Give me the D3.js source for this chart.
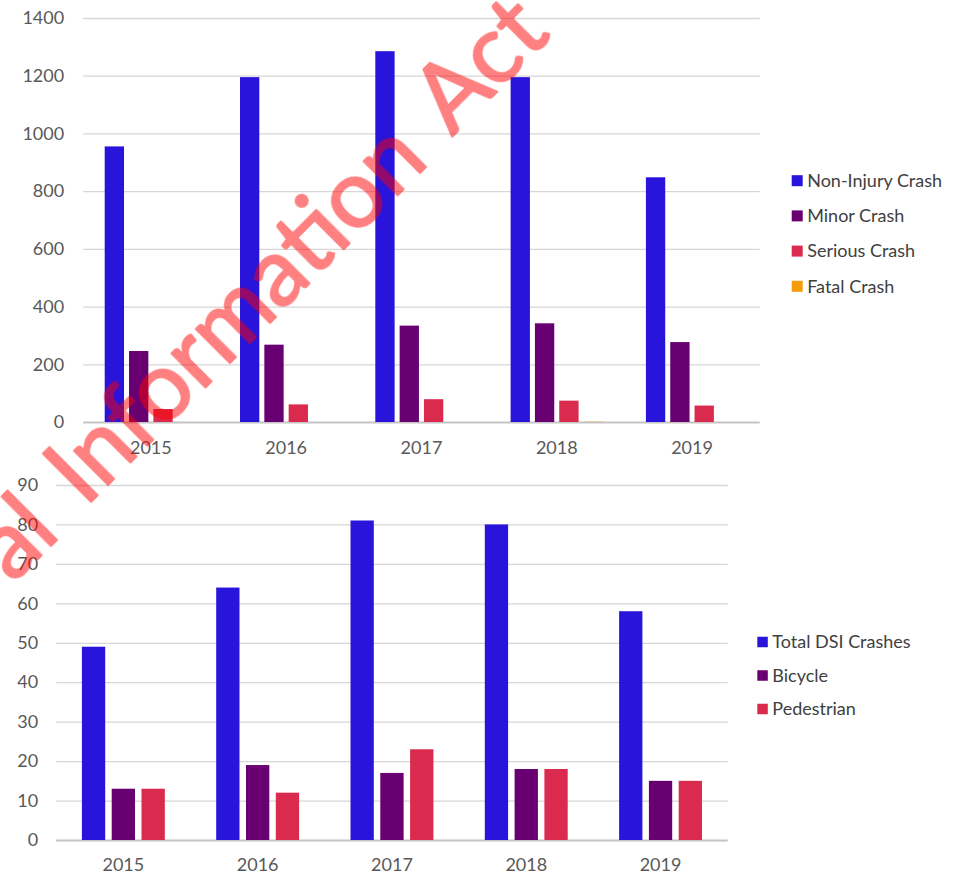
<!DOCTYPE html>
<html><head><meta charset="utf-8">
<script src="https://cdn.jsdelivr.net/npm/d3@7"></script>
<style>
html,body{margin:0;padding:0;background:#fff;}
svg{display:block;font-family:Lato,"Open Sans",sans-serif;}
.axis text{fill:#595959;font-size:18px;font-family:Lato,sans-serif;}
.legend text{fill:#404040;font-size:18px;font-family:Lato,sans-serif;}
</style></head>
<body>
<svg id="c" width="960" height="874"></svg>
<script>
// ---- data ----
const years = ["2015","2016","2017","2018","2019"];
// top chart
const crashSeries = ["Non-Injury Crash","Minor Crash","Serious Crash","Fatal Crash"];
const nonInjury = [955, 1195, 1285, 1195, 848];
const minor = [246, 268, 334, 342, 277];
const serious = [45, 61, 79, 74, 57];
const fatal = [0, 0, 0, 1, 0];
const crashTicks = [0,200,400,600,800,1000,1200,1400];
// bottom chart
const dsiSeries = ["Total DSI Crashes","Bicycle","Pedestrian"];
const totalDSI = [49, 64, 81, 80, 58];
const bicycle = [13, 19, 17, 18, 15];
const pedestrian = [13, 12, 23, 18, 15];
const dsiTicks = [0,10,20,30,40,50,60,70,80,90];
// watermark
const watermarkWords = ["al","Information","Act"];

const colors = {
  "Non-Injury Crash":"#2814da","Minor Crash":"#690071","Serious Crash":"#da2a4e","Fatal Crash":"#f59c0e",
  "Total DSI Crashes":"#2814da","Bicycle":"#690071","Pedestrian":"#da2a4e"
};

const svg = d3.select("#c");

function drawChart(cfg){
  const g = svg.append("g");
  const x = d3.scaleBand().domain(years).range([cfg.x0, cfg.x1]).paddingInner(0).paddingOuter(0);
  const xi = d3.scaleBand().domain(cfg.series).range([cfg.inset, x.bandwidth()-cfg.inset]).paddingInner(cfg.pad).paddingOuter(0);
  const y = d3.scaleLinear().domain([0, cfg.max]).range([cfg.y0, cfg.y1]);

  // gridlines + y labels
  const ya = g.append("g").attr("class","axis").attr("transform",`translate(${cfg.x0},0)`)
    .call(d3.axisLeft(y).tickValues(cfg.ticks).tickFormat(d3.format("d"))
      .tickSize(-(cfg.x1-cfg.x0)).tickPadding(cfg.labelPad));
  ya.select(".domain").remove();
  ya.selectAll(".tick line").attr("stroke","#d6d6d6").attr("stroke-width",1.3);
  ya.selectAll(".tick").filter(d=>d===0).select("line").attr("stroke","#c4c4c4").attr("stroke-width",2);

  // bars
  const rows = cfg.series.map((s,i)=>({s, vals:cfg.values[i]}));
  rows.forEach(r=>{
    g.append("g").selectAll("rect").data(years.map((yr,j)=>({yr,v:r.vals[j]})))
      .join("rect")
      .attr("x",d=>x(d.yr)+xi(r.s))
      .attr("width",xi.bandwidth())
      .attr("y",d=>y(d.v))
      .attr("height",d=>cfg.y0-y(d.v))
      .attr("fill",colors[r.s]);
  });

  // x labels
  const xa = g.append("g").attr("class","axis").attr("transform",`translate(0,${cfg.y0})`)
    .call(d3.axisBottom(x).tickSize(0).tickPadding(cfg.xPad));
  xa.select(".domain").remove();

  // legend
  const lg = g.append("g").attr("class","legend");
  cfg.series.forEach((s,i)=>{
    const cy = cfg.legY + i*cfg.legStep;
    lg.append("rect").attr("x",cfg.legX).attr("y",cy-cfg.sq/2).attr("width",cfg.sq).attr("height",cfg.sq).attr("fill",colors[s]);
    lg.append("text").attr("x",cfg.legX+cfg.sq+4.5).attr("y",cy).attr("dy","0.35em").text(s);
  });
}

drawChart({series:crashSeries, values:[nonInjury,minor,serious,fatal], x0:83.2, x1:759.7, y0:422, y1:18, max:1400,
  inset:21.5, pad:0.206, ticks:crashTicks, labelPad:19, xPad:19,
  legX:791.7, legY:180.7, legStep:35.2, sq:11});

drawChart({series:dsiSeries, values:[totalDSI,bicycle,pedestrian], x0:56.2, x1:727.7, y0:840, y1:485, max:90,
  inset:25.7, pad:0.218, ticks:dsiTicks, labelPad:18, xPad:18,
  legX:757.3, legY:642, legStep:33.5, sq:10.5});

// watermark (group opacity so fill+stroke composite once)
const wm = svg.append("g").attr("opacity",0.5).attr("fill","#ff0000")
  .attr("stroke","#ff0000").attr("stroke-width",2).attr("stroke-linejoin","round")
  .style("font-family","Lato,sans-serif").style("font-size","95px");
const wmPos = [[62,535,"end"],[85,508,"start"],[452,137,"start"]];
watermarkWords.forEach((w,i)=>{
  wm.append("text").attr("transform",`translate(${wmPos[i][0]},${wmPos[i][1]}) rotate(-45)`)
    .attr("text-anchor",wmPos[i][2]).text(w);
});
</script>
</body></html>
